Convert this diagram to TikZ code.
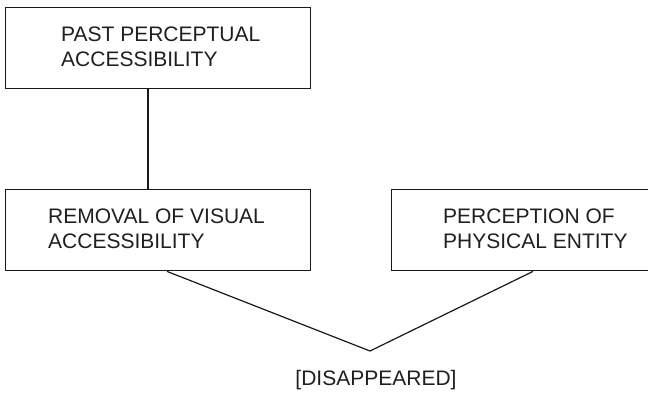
\documentclass[tikz,border=0pt]{standalone}
\usepackage{fontspec}
\setmainfont{Liberation Sans}
\begin{document}
\begin{tikzpicture}[x=1pt,y=1pt,
  box/.style={draw=black!90, line width=1.4pt, rectangle, inner sep=0pt, anchor=north west},
  caption/.style={anchor=base west, inner sep=0pt, align=left, text=black!88,
    font=\fontsize{21}{24.5}\selectfont},
  link/.style={draw=black!90, line width=1.2pt}]
\useasboundingbox (0,0) rectangle (648,-392);

% boxes
\node[box, minimum width=305, minimum height=81] (past) at (5,-7) {};
\node[box, minimum width=305, minimum height=81] (removal) at (5,-189) {};
\node[box, minimum width=262, minimum height=81] (perception) at (391,-189) {};

% box texts (anchored at the baseline of the last line)
\node[caption] (pastText) at (61,-66) {PAST PERCEPTUAL\\ACCESSIBILITY};
\node[caption] (removalText) at (48,-248) {REMOVAL OF VISUAL\\ACCESSIBILITY};
\node[caption] (perceptionText) at (443,-248) {PERCEPTION OF\\PHYSICAL ENTITY};

% result
\coordinate (vee) at (370,-351);
\node[caption, anchor=base] (result) at (376,-385) {[DISAPPEARED]};

% connectors
\draw[link] ([xshift=143]past.south west) -- ([xshift=143]removal.north west);
\draw[link, line join=miter] ([xshift=162]removal.south west) -- (vee)
  -- ([xshift=142]perception.south west);
\end{tikzpicture}
\end{document}
